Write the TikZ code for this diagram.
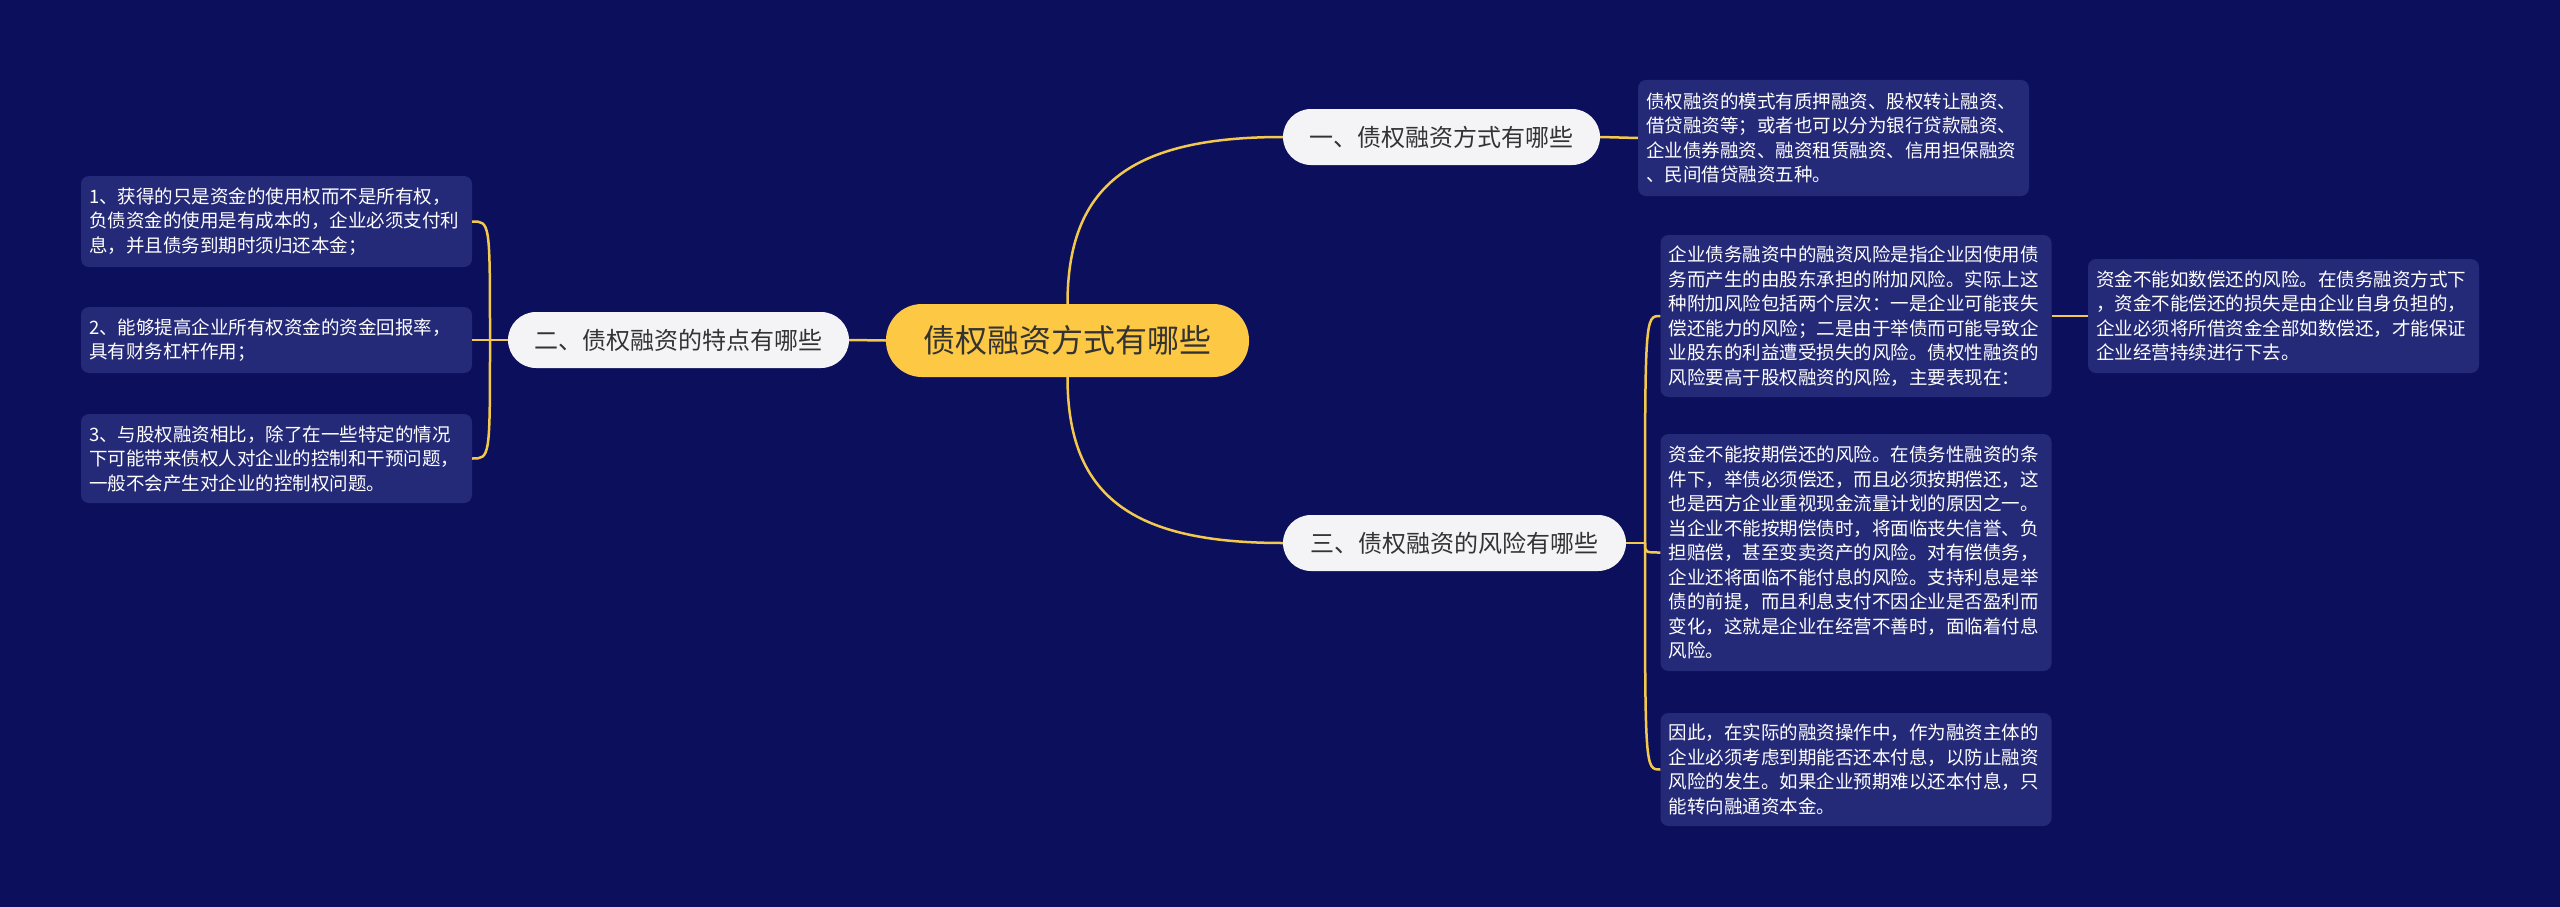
\documentclass[tikz,border=0pt]{standalone}
\usepackage{fontspec}
\setmainfont{Noto Sans CJK SC}
\definecolor{bgc}{HTML}{0B0F5C}
\definecolor{leafc}{HTML}{252A78}
\definecolor{mainc}{HTML}{FDC843}
\definecolor{linkc}{HTML}{F2C94C}
\definecolor{subc}{HTML}{F4F4F6}
\definecolor{txtc}{HTML}{333333}
\begin{document}
\begin{tikzpicture}[x=1pt,y=-1pt,
  leaf/.style={fill=leafc, rounded corners=8pt, text=white, align=left,
    text width=375pt, inner xsep=8pt, inner ysep=0pt,
    font=\fontsize{18.5}{24.5}\selectfont},
  subnode/.style={fill=subc, rounded corners=28pt, text=txtc, inner sep=0pt,
    minimum height=56pt, font=\fontsize{24}{28}\selectfont},
  mainnode/.style={fill=mainc, rounded corners=36pt, text=txtc, inner sep=0pt,
    minimum height=73pt, minimum width=363pt, font=\fontsize{32}{36}\selectfont},
  link/.style={draw=linkc, line width=2.5pt}]
\fill[bgc] (0,0) rectangle (2560,907);
\useasboundingbox (0,0) rectangle (2560,907);

% central
\node[mainnode] (c) at (1067.5,340.5) {债权融资方式有哪些};
% level 1
\node[subnode, minimum width=341pt] (n2) at (678.5,340) {二、债权融资的特点有哪些};
\node[subnode, minimum width=317pt] (n1) at (1441.5,137) {一、债权融资方式有哪些};
\node[subnode, minimum width=343pt] (n3) at (1454.5,543) {三、债权融资的风险有哪些};

% left leaves
\node[leaf, minimum height=91pt] (l1) at (276.5,221.5) {1、获得的只是资金的使用权而不是所有权，\\负债资金的使用是有成本的，企业必须支付利\\息，并且债务到期时须归还本金；};
\node[leaf, minimum height=66pt] (l2) at (276.5,340) {2、能够提高企业所有权资金的资金回报率，\\具有财务杠杆作用；};
\node[leaf, minimum height=89pt] (l3) at (276.5,458.5) {3、与股权融资相比，除了在一些特定的情况\\下可能带来债权人对企业的控制和干预问题，\\一般不会产生对企业的控制权问题。};

% right leaves
\node[leaf, minimum height=116pt] (r1) at (1833.5,138) {债权融资的模式有质押融资、股权转让融资、\\借贷融资等；或者也可以分为银行贷款融资、\\企业债券融资、融资租赁融资、信用担保融资\\、民间借贷融资五种。};
\node[leaf, minimum height=162pt] (r3a) at (1856,316) {企业债务融资中的融资风险是指企业因使用债\\务而产生的由股东承担的附加风险。实际上这\\种附加风险包括两个层次：一是企业可能丧失\\偿还能力的风险；二是由于举债而可能导致企\\业股东的利益遭受损失的风险。债权性融资的\\风险要高于股权融资的风险，主要表现在：};
\node[leaf, minimum height=114pt] (r3a1) at (2283.5,316) {资金不能如数偿还的风险。在债务融资方式下\\，资金不能偿还的损失是由企业自身负担的，\\企业必须将所借资金全部如数偿还，才能保证\\企业经营持续进行下去。};
\node[leaf, minimum height=237pt] (r3b) at (1856,552.5) {资金不能按期偿还的风险。在债务性融资的条\\件下，举债必须偿还，而且必须按期偿还，这\\也是西方企业重视现金流量计划的原因之一。\\当企业不能按期偿债时，将面临丧失信誉、负\\担赔偿，甚至变卖资产的风险。对有偿债务，\\企业还将面临不能付息的风险。支持利息是举\\债的前提，而且利息支付不因企业是否盈利而\\变化，这就是企业在经营不善时，面临着付息\\风险。};
\node[leaf, minimum height=113pt] (r3c) at (1856,769.5) {因此，在实际的融资操作中，作为融资主体的\\企业必须考虑到期能否还本付息，以防止融资\\风险的发生。如果企业预期难以还本付息，只\\能转向融通资本金。};

% junctions
\coordinate (j2) at (490,340);
\coordinate (j3) at (1645,543);

% connectors
\draw[link] (c.west) -- (n2.east);
\draw[link] (c.north) .. controls +(0,-120) and +(-150,0) .. (n1.west);
\draw[link] (c.south) .. controls +(0,120) and +(-150,0) .. (n3.west);
\draw[link] (n1.east) -- (r1.west);
\draw[link] (r3a.east) -- (r3a1.west);
\draw[link] (n3.east) -- (j3);
\draw[link] (n2.west) -- (j2);
\foreach \t in {r3a,r3b,r3c}
  \draw[link] (j3) .. controls (j3 |- \t.west) and (j3 |- \t.west) .. (\t.west);
\foreach \t in {l1,l2,l3}
  \draw[link] (j2) .. controls (j2 |- \t.east) and (j2 |- \t.east) .. (\t.east);
\end{tikzpicture}
\end{document}
